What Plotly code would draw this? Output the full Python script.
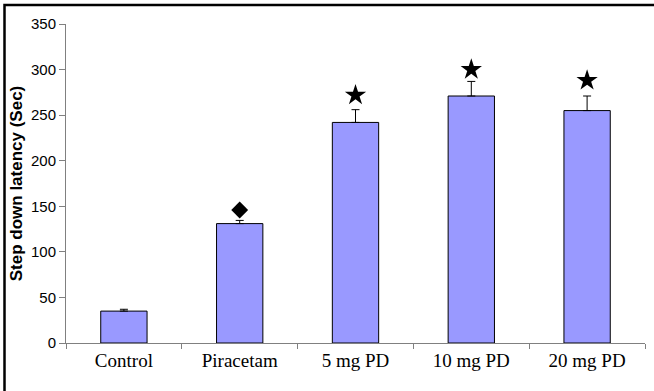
import plotly.graph_objects as go

categories = ["Control", "Piracetam", "5 mg PD", "10 mg PD", "20 mg PD"]
latency = [35, 131, 242, 271, 255]
sem = [2, 3.5, 14, 16, 16]
diamond_cats = ["Piracetam"]
diamond_y = [146]
star_cats = ["5 mg PD", "10 mg PD", "20 mg PD"]
star_y = [272, 300, 288]
y_ticks = [0, 50, 100, 150, 200, 250, 300, 350]

W, H = 654, 391
L, R, T, B = 66, 9, 24, 48
pw, ph = W - L - R, H - T - B

fig = go.Figure()
fig.add_trace(go.Bar(
    x=categories, y=latency,
    marker=dict(color="#9999FF", line=dict(color="black", width=1)),
    error_y=dict(type="data", array=sem, arrayminus=[0]*len(sem), symmetric=False,
                 color="black", thickness=1, width=4),
    width=0.4, showlegend=False,
))
fig.add_trace(go.Scatter(
    x=diamond_cats, y=diamond_y, mode="markers",
    marker=dict(symbol="diamond", size=13, color="black"), showlegend=False,
))
fig.add_trace(go.Scatter(
    x=star_cats, y=star_y, mode="markers",
    marker=dict(symbol="star", size=16, color="black"), showlegend=False,
))

# frame (left and top edges of the figure border)
xl = (4.5 - L) / pw
yt = (H - B - 5) / ph
fig.add_shape(type="path", xref="paper", yref="paper",
              path=f"M {xl} -1 L {xl} {yt} L 2 {yt}",
              line=dict(color="black", width=2.5), layer="above")

fig.update_layout(
    width=W, height=H,
    margin=dict(l=L, r=R, t=T, b=B),
    paper_bgcolor="white", plot_bgcolor="white",
    bargap=0.6,
    font=dict(family="Liberation Sans, Arial", color="black"),
)
fig.update_xaxes(
    type="category", showline=True, linecolor="#808080", linewidth=1,
    ticks="outside", tickson="boundaries", ticklen=5, tickcolor="#808080",
    tickfont=dict(family="Liberation Serif, Times New Roman", size=19, color="black"),
    showgrid=False, zeroline=False, range=[-0.5, 4.5],
)
fig.update_yaxes(
    range=[0, 350], tickvals=y_ticks, showline=True, linecolor="#808080", linewidth=1,
    ticks="outside", ticklen=6, tickcolor="#808080",
    tickfont=dict(family="Liberation Sans, Arial", size=15, color="black"),
    showgrid=False, zeroline=False,
    title=dict(text="<b>Step down latency (Sec)</b>", standoff=4,
               font=dict(family="Liberation Sans, Arial", size=17, color="black")),
)
fig.write_html("out.html")
